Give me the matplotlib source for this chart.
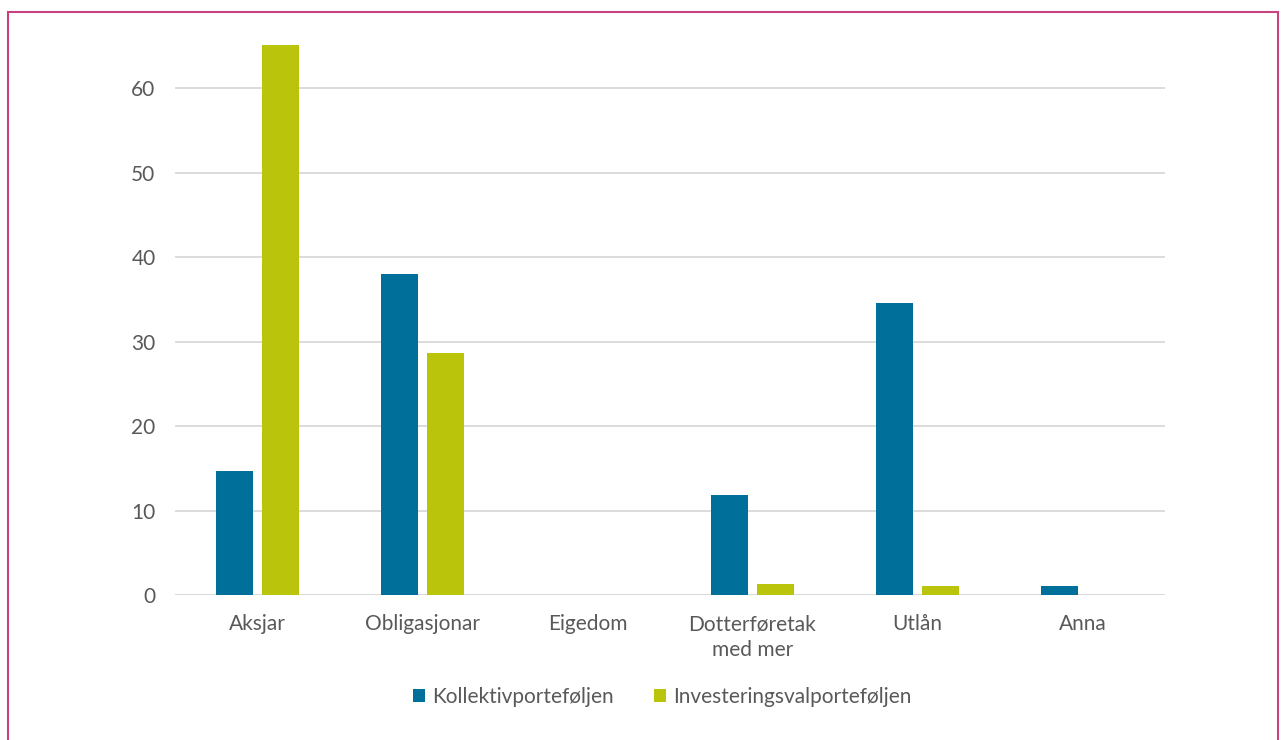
import numpy as np
import matplotlib.pyplot as plt
from matplotlib.patches import Rectangle

plt.rcParams['font.family'] = ['Lato', 'DejaVu Sans']

categories = ['Aksjar', 'Obligasjonar', 'Eigedom', 'Dotterføretak\nmed mer', 'Utlån', 'Anna']
kollektiv = [14.7, 38.0, 0.0, 11.8, 34.6, 1.1]
investering = [65.1, 28.6, 0.0, 1.3, 1.1, 0.0]
series_names = ['Kollektivporteføljen', 'Investeringsvalporteføljen']

blue = '#00709a'
green = '#bac40a'
grey = '#595959'

fig = plt.figure(figsize=(12.81, 7.40), dpi=100)
ax = fig.add_axes([0.1366, 0.196, 0.7728, 0.743])

x = np.arange(len(categories))
w = 0.224
off = 0.14
ax.bar(x - off, kollektiv, w, color=blue, label=series_names[0], zorder=3)
ax.bar(x + off, investering, w, color=green, label=series_names[1], zorder=3)

ax.set_xlim(-0.5, len(categories) - 0.5)
ax.set_ylim(0, 65.1)
ax.set_yticks(range(0, 61, 10))
ax.yaxis.grid(True, color='#d9d9d9', linewidth=1.3, zorder=0)
ax.set_axisbelow(True)
for s in ax.spines.values():
    s.set_visible(False)
ax.axhline(0, color='#d9d9d9', linewidth=1.3, zorder=2)

ax.set_xticks(x)
ax.set_xticklabels(categories, linespacing=1.35)
ax.tick_params(axis='both', length=0, labelsize=15, labelcolor=grey)
ax.tick_params(axis='x', pad=14)
ax.tick_params(axis='y', pad=14)

fig.legend(loc='center', bbox_to_anchor=(0.517, 0.058), ncol=2, frameon=False,
           fontsize=15, labelcolor=grey, handlelength=0.6, handleheight=0.6,
           handletextpad=0.35, columnspacing=1.9)

# outer frame
fig.patches.append(Rectangle((8 / 1281, -0.01), 1270 / 1281, 1 - 12 / 740 + 0.01,
                             transform=fig.transFigure, fill=False,
                             edgecolor='#c8427f', linewidth=1.5))

fig.savefig('out.png', dpi=100)
